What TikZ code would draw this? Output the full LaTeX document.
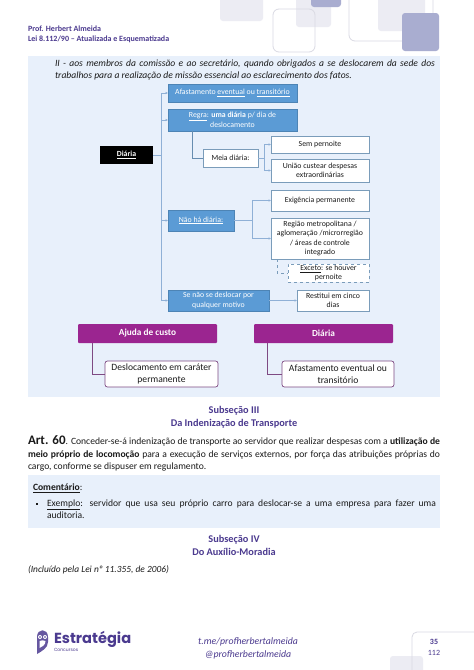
\documentclass[tikz,border=0pt]{standalone}
\usepackage{fontspec}
\setmainfont{Carlito}
\newfontfamily\logofont{Poppins}
\usetikzlibrary{arrows.meta}
\definecolor{pagepurple}{HTML}{4B3A8F}
\definecolor{panelblue}{HTML}{E8F0FB}
\definecolor{boxblue}{HTML}{5B9BD5}
\definecolor{edgeblue}{HTML}{41719C}
\definecolor{linkblue}{HTML}{8FB0D6}
\definecolor{deepmag}{HTML}{9B2590}
\definecolor{magline}{HTML}{7E4A83}
\definecolor{decolight}{HTML}{ECECF3}
\definecolor{decomid}{HTML}{A9ADD0}
\definecolor{decoline}{HTML}{DADAE3}
\definecolor{bodyink}{HTML}{1A1A1A}
\tikzset{
  x=1pt,y=-1pt,
  every node/.style={inner sep=0pt,outer sep=0pt,font=\fontsize{7.8}{9.6}\selectfont},
  blockbase/.style={minimum width=#1,align=center},
  bluebox/.style={blockbase=#1,fill=boxblue,draw=boxblue!85!black,line width=.4pt,text=white},
  whitebox/.style={blockbase=#1,fill=white,draw=edgeblue!70,line width=.6pt,text=bodyink},
  dashbox/.style={blockbase=#1,fill=white,draw=edgeblue!70,dashed,line width=.6pt,text=bodyink},
  blackbox/.style={blockbase=#1,fill=black,text=white},
  magbox/.style={blockbase=#1,fill=deepmag,text=white,rounded corners=1pt,font=\fontsize{9.3}{11}\selectfont\bfseries},
  magchild/.style={blockbase=#1,fill=white,draw=magline,line width=.7pt,rounded corners=2.5pt,text=bodyink,font=\fontsize{9.6}{11.5}\selectfont},
  link/.style={draw=linkblue,line width=.7pt,-{Latex[length=2.4pt,width=2.4pt]}},
  plainlink/.style={draw=linkblue,line width=.7pt},
  maglink/.style={draw=magline,line width=.9pt},
  dashlink/.style={draw=edgeblue!70,line width=.6pt,dashed},
  headline/.style={anchor=base west,text=pagepurple,font=\fontsize{8}{9}\selectfont\bfseries},
  sectitle/.style={anchor=base,text=pagepurple,font=\fontsize{10.3}{12}\selectfont\bfseries},
  bodyline/.style={anchor=base west,text=bodyink,font=\fontsize{9.6}{11}\selectfont},
  decofill/.style={fill=decolight,rounded corners=3pt},
  decomidfill/.style={fill=decomid,rounded corners=3pt},
  decoout/.style={draw=decoline,line width=.8pt,rounded corners=6pt},
}
\newcommand{\lineto}[2]{\makebox[#1][s]{#2}}
\begin{document}
\begin{tikzpicture}
\useasboundingbox (0,0) rectangle (474,670);
\fill[white] (0,0) rectangle (474,670);
% header decoration
\fill[decofill] (220,-5) rectangle (263,21);
\fill[decofill] (296,-5) rectangle (331,27);
\draw[decoout] (273,9) rectangle (315,52);
\draw[decoout] (349,-8) rectangle (433,41);
\fill[decofill] (378,-5) rectangle (425,31);
\fill[decomidfill] (311,-5) rectangle (341,7);
\fill[decomidfill] (402,13) rectangle (439,51);
% header text
\node[headline] (h1) at (28,31) {Prof. Herbert Almeida};
\node[headline] (h2) at (28,41) {Lei 8.112/90 – Atualizada e Esquematizada};
% panels
\fill[panelblue] (28,56) rectangle (440,397);
\fill[panelblue] (28,475) rectangle (440,528);
% intro text
\node[bodyline,font=\fontsize{9.6}{11}\selectfont\itshape] (t1) at (55,66) {\lineto{380pt}{II - aos membros da comissão e ao secretário, quando obrigados a se deslocarem da sede dos}};
\node[bodyline,font=\fontsize{9.6}{11}\selectfont\itshape] (t2) at (55,78) {trabalhos para a realização de missão essencial ao esclarecimento dos fatos.};
% diagram nodes
\node[blackbox=53pt,minimum height=18pt] (diaria) at (126.5,155) {\textbf{\underline{Diária}}};
\node[bluebox=129pt,minimum height=18pt] (afast) at (232.5,93) {Afastamento \underline{eventual} ou \underline{transitório}};
\node[bluebox=129pt,minimum height=22pt] (regra) at (232.5,120) {\underline{Regra}: \textbf{uma diária} p/ dia de\\deslocamento};
\node[whitebox=55pt,minimum height=18pt] (meia) at (230.5,158) {Meia diária:};
\node[whitebox=98pt,minimum height=17pt] (sem) at (320,144.5) {Sem pernoite};
\node[whitebox=98pt,minimum height=23pt] (uniao) at (320,170.5) {União custear despesas\\extraordinárias};
\node[bluebox=66pt,minimum height=21pt] (nao) at (201,220.5) {\underline{Não há diária:}};
\node[whitebox=98pt,minimum height=21pt] (exig) at (320,200.5) {Exigência permanente};
\node[whitebox=98pt,minimum height=41pt] (regiao) at (320,238.5) {Região metropolitana /\\aglomeração /microrregião\\/ áreas de controle\\integrado};
\node[dashbox=81pt,minimum height=18pt] (exceto) at (328.5,273) {\underline{Exceto}: se houver\\pernoite};
\node[bluebox=101pt,minimum height=21pt] (senao) at (218.5,300.5) {Se não se deslocar por\\qualquer motivo};
\node[whitebox=72pt,minimum height=21pt] (restitui) at (333,300.5) {Restitui em cinco\\dias};
% diagram connectors
\coordinate (trunk) at (161,155);
\draw[plainlink] (diaria.east) -- (trunk);
\draw[link] (trunk) |- (afast.west);
\draw[link] (trunk) |- (regra.west);
\draw[link] (trunk) |- (nao.west);
\draw[link] (trunk) |- (senao.west);
\draw[draw=edgeblue!80,line width=.7pt] (regra.south -| 192,131) |- (meia.west);
\coordinate (mfork) at (264.5,158);
\draw[plainlink] (meia.east) -- (mfork);
\draw[link] (mfork) |- (sem.west);
\draw[link] (mfork) |- (uniao.west);
\coordinate (nfork) at (252,220.5);
\draw[plainlink] (nao.east) -- (nfork);
\draw[link] (nfork) |- (exig.west);
\draw[link] (nfork) |- (regiao.west);
\coordinate (rdrop) at (277,259);
\draw[dashlink] (rdrop) |- (exceto.west);
\draw[link] (senao.east) -- (restitui.west);
% comparison
\node[magbox=139pt,minimum height=19pt] (ajuda) at (147.5,333.5) {Ajuda de custo};
\node[magbox=139pt,minimum height=19pt] (diaria2) at (323.5,333.5) {Diária};
\node[magchild=113pt,minimum height=26pt] (desloc) at (161.5,374) {Deslocamento em caráter\\permanente};
\node[magchild=112pt,minimum height=26pt] (afast2) at (338,374) {Afastamento eventual ou\\transitório};
\coordinate (aj) at (92,343);
\coordinate (dj) at (267,343);
\draw[maglink] (aj) |- (desloc.west);
\draw[maglink] (dj) |- (afast2.west);
% Subseção III
\node[sectitle] (s31) at (234,413) {Subseção III};
\node[sectitle] (s32) at (234,426) {Da Indenização de Transporte};
\node[bodyline] (a1) at (28,444.5) {\lineto{412pt}{{\fontsize{13}{14}\selectfont\bfseries Art. 60}. Conceder-se-á indenização de transporte ao servidor que realizar despesas com a \textbf{utilização de}}};
\node[bodyline] (a2) at (28,457) {\lineto{412pt}{\textbf{meio próprio de locomoção} para a execução de serviços externos, por força das atribuições próprias do}};
\node[bodyline] (a3) at (28,469.5) {cargo, conforme se dispuser em regulamento.};
\node[bodyline] (c1) at (33,490.5) {\textbf{\underline{Comentário}}:};
\fill[bodyink] (35.5,502.5) rectangle (38,505);
\node[bodyline] (c2) at (47,506.5) {\lineto{389pt}{\underline{Exemplo}: servidor que usa seu próprio carro para deslocar-se a uma empresa para fazer uma}};
\node[bodyline] (c3) at (47,518.5) {auditoria.};
% Subseção IV
\node[sectitle] (s41) at (234,542.5) {Subseção IV};
\node[sectitle] (s42) at (234,555.5) {Do Auxílio-Moradia};
\node[bodyline,font=\fontsize{9.4}{11}\selectfont\itshape] (inc) at (28,572) {(Incluído pela Lei nº 11.355, de 2006)};
% footer logo
\fill[pagepurple!85] (37,637) .. controls (37,628) and (48,628) .. (48,637) -- (48,642) .. controls (48,648) and (42,651) .. (37,654) -- cycle;
\fill[white] (40,637) circle (2pt) (45,637) circle (2pt);
\fill[pagepurple] (40,637) circle (.9pt) (45,637) circle (.9pt);
\fill[white] (39.5,641) .. controls (41,640) and (44,640) .. (45.5,641) .. controls (45.5,645) and (42,647) .. (39.5,648) -- cycle;
\node[anchor=base west,text=pagepurple,font=\fontsize{14.6}{16}\logofont\bfseries] (logo) at (54,643.5) {Estratégia};
\node[anchor=base west,text=pagepurple,font=\fontsize{4.5}{5}\logofont] (logo2) at (54,651.5) {Concursos};
\node[anchor=base,text=pagepurple,font=\fontsize{9.8}{11}\selectfont\itshape] (f1) at (248,644) {t.me/profherbertalmeida};
\node[anchor=base,text=pagepurple,font=\fontsize{9.8}{11}\selectfont\itshape] (f2) at (248,657.5) {@profherbertalmeida};
% page box
\fill[decolight,rounded corners=3pt] (390,656) rectangle (423,675);
\draw[decoline,line width=.8pt,rounded corners=5pt] (412,680) -- (412,632) -- (480,632);
\node[anchor=base,text=pagepurple,font=\fontsize{8}{9}\selectfont\bfseries] (p1) at (434,644) {35};
\node[anchor=base,text=pagepurple,font=\fontsize{8}{9}\selectfont] (p2) at (434,655) {112};
\end{tikzpicture}
\end{document}
